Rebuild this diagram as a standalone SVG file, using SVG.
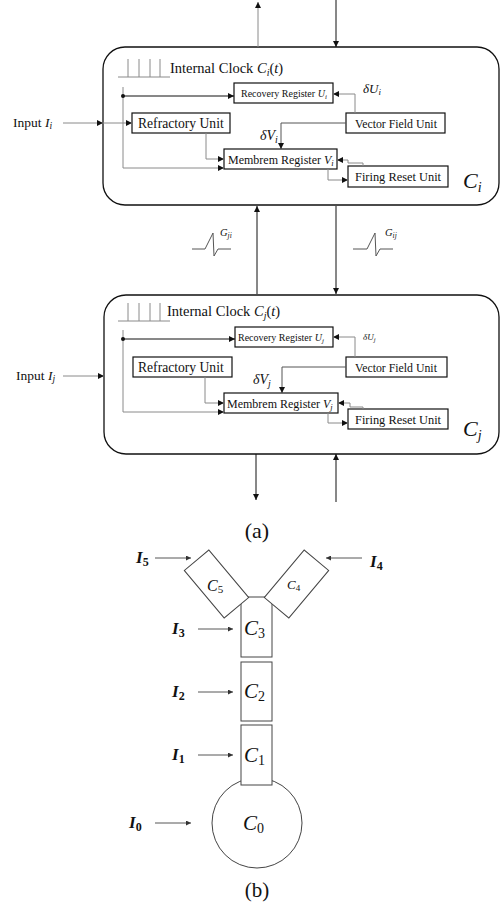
<svg xmlns="http://www.w3.org/2000/svg" width="500" height="909" viewBox="0 0 500 909">
  <defs>
    <marker id="ah" viewBox="0 0 6 6" refX="6" refY="3" markerWidth="6" markerHeight="6" markerUnits="userSpaceOnUse" orient="auto">
      <path d="M0,0 L6,3 L0,6 z" fill="#111"/>
    </marker>
    <marker id="ahs" viewBox="0 0 6 6" refX="6" refY="3" markerWidth="5" markerHeight="5" markerUnits="userSpaceOnUse" orient="auto">
      <path d="M0,0 L6,3 L0,6 z" fill="#333"/>
    </marker>
  </defs>
  <style>
    text { font-family: "Liberation Serif", "DejaVu Serif", serif; fill: #111; }
    .m { font-style: italic; }
    .unit { fill: #fff; stroke: #111; stroke-width: 1.2; }
    .cell { fill: #fff; stroke: #111; stroke-width: 1.3; }
    .k { fill: none; stroke: #111; stroke-width: 1; }
    .g { fill: none; stroke: #8a8a8a; stroke-width: 1; }
    .d { fill: none; stroke: #555; stroke-width: 1; }
    .seg { fill: #fff; stroke: #444; stroke-width: 1; }
    .in { fill: none; stroke: #444; stroke-width: 0.9; }
    .lab { font-weight: bold; font-style: italic; font-size: 17px; }
  </style>

  <!-- ===== Part (a): two coupled neuron cells ===== -->
  <g id="cell-i">
    <rect class="cell" x="103" y="47" width="396" height="158" rx="22"/>
    <text x="463" y="188" font-size="22"><tspan class="m">C</tspan><tspan class="m" font-size="14" dy="4">i</tspan></text>
  </g>
  <g id="clock-i">
    <path class="g" d="M118,77 H170 M128,59 V77 M139,59 V77 M150,59 V77 M160,59 V77"/>
    <text x="170" y="73" font-size="14.5">Internal Clock <tspan class="m">C</tspan><tspan class="m" font-size="10" dy="3">i</tspan><tspan dy="-3">(</tspan><tspan class="m">t</tspan>)</text>
  </g>
  <g id="recovery-i">
    <rect class="unit" x="234" y="83" width="99" height="20"/>
    <text x="241" y="97" font-size="10">Recovery Register <tspan class="m">U</tspan><tspan class="m" font-size="7" dy="2">i</tspan></text>
  </g>
  <g id="refractory-i">
    <rect class="unit" x="132" y="113" width="98" height="20"/>
    <text x="138" y="128" font-size="13.6">Refractory Unit</text>
  </g>
  <g id="vector-i">
    <rect class="unit" x="346" y="113" width="99" height="20"/>
    <text x="355" y="127.5" font-size="11.8">Vector Field Unit</text>
  </g>
  <g id="membrem-i">
    <rect class="unit" x="224" y="149" width="113" height="20"/>
    <text x="228" y="163.5" font-size="12">Membrem Register <tspan class="m">V</tspan><tspan class="m" font-size="8.5" dy="2">i</tspan></text>
  </g>
  <g id="firing-i">
    <rect class="unit" x="348" y="166" width="100" height="21"/>
    <text x="355" y="181" font-size="12.4">Firing Reset Unit</text>
  </g>
  <g id="input-i">
    <text x="13" y="127" font-size="13.5">Input <tspan class="m">I</tspan><tspan class="m" font-size="9.5" dy="2">i</tspan></text>
  </g>

  <g id="cell-j">
    <rect class="cell" x="104" y="295" width="395" height="159" rx="22"/>
    <text x="463" y="436" font-size="22"><tspan class="m">C</tspan><tspan class="m" font-size="14" dy="4">j</tspan></text>
  </g>
  <g id="clock-j">
    <path class="g" d="M118,321 H170 M128,303 V321 M139,303 V321 M150,303 V321 M160,303 V321"/>
    <text x="167" y="316" font-size="14.5">Internal Clock <tspan class="m">C</tspan><tspan class="m" font-size="10" dy="3">j</tspan><tspan dy="-3">(</tspan><tspan class="m">t</tspan>)</text>
  </g>
  <g id="recovery-j">
    <rect class="unit" x="235" y="327" width="98" height="20"/>
    <text x="238" y="341" font-size="10">Recovery Register <tspan class="m">U</tspan><tspan class="m" font-size="7" dy="2">j</tspan></text>
  </g>
  <g id="refractory-j">
    <rect class="unit" x="133" y="357" width="99" height="20"/>
    <text x="138" y="372" font-size="13.6">Refractory Unit</text>
  </g>
  <g id="vector-j">
    <rect class="unit" x="346" y="357" width="101" height="20"/>
    <text x="355" y="371.5" font-size="11.8">Vector Field Unit</text>
  </g>
  <g id="membrem-j">
    <rect class="unit" x="224" y="393" width="114" height="20"/>
    <text x="227" y="407.5" font-size="12">Membrem Register <tspan class="m">V</tspan><tspan class="m" font-size="8.5" dy="2">j</tspan></text>
  </g>
  <g id="firing-j">
    <rect class="unit" x="348" y="409" width="100" height="20"/>
    <text x="355" y="424" font-size="12.4">Firing Reset Unit</text>
  </g>
  <g id="input-j">
    <text x="16" y="380" font-size="13.5">Input <tspan class="m">I</tspan><tspan class="m" font-size="9.5" dy="2">j</tspan></text>
  </g>

  <!-- coupling signal glyphs between the cells -->
  <g id="coupling-ji">
    <path class="d" d="M192,249 H205 L213,233 L214,256 L218,249 H231"/>
    <text x="220" y="236" font-size="10.5"><tspan class="m">G</tspan><tspan class="m" font-size="7.5" dy="2">ji</tspan></text>
  </g>
  <g id="coupling-ij">
    <path class="d" d="M353,249 H367 L375,233 L376,256 L380,249 H393"/>
    <text x="385" y="236" font-size="10.5"><tspan class="m">G</tspan><tspan class="m" font-size="7.5" dy="2">ij</tspan></text>
  </g>

  <g id="connectors-a">
    <!-- cell i internals -->
    <path class="g" d="M123,87 V168 H224" marker-end="url(#ah)"/>
    <circle cx="123" cy="96" r="2" fill="#111"/>
    <path class="k" d="M123,96 H234" marker-end="url(#ah)"/>
    <path class="g" d="M63,123 H103" marker-end="url(#ah)"/>
    <path class="g" d="M103,123 H132" marker-end="url(#ah)"/>
    <path class="g" d="M355,113 V94 H333" marker-end="url(#ah)"/>
    <path class="d" d="M346,123 H281 V149" marker-end="url(#ah)"/>
    <path class="g" d="M206,133 V159 H224" marker-end="url(#ah)"/>
    <path class="g" d="M328,169 V180 H348" marker-end="url(#ah)"/>
    <path class="g" d="M363,166 V163 H348 V160 H337" marker-end="url(#ah)"/>
    <text x="363" y="93" font-size="13"><tspan class="m">δU</tspan><tspan class="m" font-size="9" dy="2">i</tspan></text>
    <text x="260" y="140" font-size="14"><tspan class="m">δV</tspan><tspan class="m" font-size="10" dy="3">i</tspan></text>

    <!-- cell j internals -->
    <path class="g" d="M123,330 V412 H224" marker-end="url(#ah)"/>
    <circle cx="123" cy="339" r="2" fill="#111"/>
    <path class="k" d="M123,339 H235" marker-end="url(#ah)"/>
    <path class="g" d="M63,376 H104" marker-end="url(#ah)"/>
    <path class="g" d="M355,357 V337 H333" marker-end="url(#ah)"/>
    <path class="d" d="M346,367 H282 V393" marker-end="url(#ah)"/>
    <path class="g" d="M205,377 V403 H224" marker-end="url(#ah)"/>
    <path class="g" d="M328,413 V423 H348" marker-end="url(#ah)"/>
    <path class="g" d="M363,409 V407 H350 V403 H338" marker-end="url(#ah)"/>
    <text x="363" y="340" font-size="9"><tspan class="m">δU</tspan><tspan class="m" font-size="6.5" dy="2">j</tspan></text>
    <text x="253" y="384" font-size="14"><tspan class="m">δV</tspan><tspan class="m" font-size="10" dy="3">j</tspan></text>

    <!-- links between cells and beyond -->
    <path class="g" d="M258,47 V2" marker-end="url(#ah)"/>
    <path class="k" d="M336,0 V47" marker-end="url(#ah)"/>
    <path class="k" d="M257,294 V206" marker-end="url(#ah)"/>
    <path class="k" d="M336,206 V294" marker-end="url(#ah)"/>
    <path class="k" d="M256,454 V500" marker-end="url(#ah)"/>
    <path class="k" d="M336,502 V454" marker-end="url(#ah)"/>
  </g>

  <text x="257" y="538" font-size="22" text-anchor="middle">(a)</text>

  <!-- ===== Part (b): compartment chain ===== -->
  <g id="c0">
    <circle class="seg" cx="257" cy="823" r="45"/>
    <text x="243" y="830" font-size="21"><tspan class="m">C</tspan><tspan font-size="14" dy="3">0</tspan></text>
  </g>
  <g id="c1">
    <rect class="seg" x="241" y="725" width="31" height="60"/>
    <text x="244" y="762" font-size="21"><tspan class="m">C</tspan><tspan font-size="14" dy="3">1</tspan></text>
  </g>
  <g id="c2">
    <rect class="seg" x="241" y="662" width="31" height="59"/>
    <text x="244" y="698" font-size="21"><tspan class="m">C</tspan><tspan font-size="14" dy="3">2</tspan></text>
  </g>
  <g id="c3">
    <rect class="seg" x="241" y="597" width="31" height="60"/>
    <text x="244" y="635" font-size="21"><tspan class="m">C</tspan><tspan font-size="14" dy="3">3</tspan></text>
  </g>
  <g id="c5">
    <rect class="seg" x="-16" y="-31" width="32" height="62" transform="translate(216.5,584) rotate(-40)"/>
    <text x="207" y="591" font-size="16"><tspan class="m">C</tspan><tspan font-size="11" dy="2">5</tspan></text>
  </g>
  <g id="c4">
    <rect class="seg" x="-16" y="-31" width="32" height="62" transform="translate(296.5,584) rotate(40)"/>
    <text x="287" y="589" font-size="13"><tspan class="m">C</tspan><tspan font-size="9" dy="2">4</tspan></text>
  </g>

  <g id="inputs-b">
    <text class="lab" x="136" y="563">I<tspan font-size="12" font-style="normal" dy="3">5</tspan></text>
    <text class="lab" x="370" y="567">I<tspan font-size="12" font-style="normal" dy="3">4</tspan></text>
    <text class="lab" x="172" y="634">I<tspan font-size="12" font-style="normal" dy="3">3</tspan></text>
    <text class="lab" x="172" y="697">I<tspan font-size="12" font-style="normal" dy="3">2</tspan></text>
    <text class="lab" x="172" y="760">I<tspan font-size="12" font-style="normal" dy="3">1</tspan></text>
    <text class="lab" x="129" y="828">I<tspan font-size="12" font-style="normal" dy="3">0</tspan></text>
  </g>

  <g id="connectors-b">
    <path class="in" d="M155,558 H191" marker-end="url(#ahs)"/>
    <path class="in" d="M362,558 H326" marker-end="url(#ahs)"/>
    <path class="in" d="M198,629 H233" marker-end="url(#ahs)"/>
    <path class="in" d="M198,692 H233" marker-end="url(#ahs)"/>
    <path class="in" d="M198,755 H233" marker-end="url(#ahs)"/>
    <path class="in" d="M155,823 H191" marker-end="url(#ahs)"/>
  </g>

  <text x="257" y="897" font-size="21" text-anchor="middle">(b)</text>
</svg>
